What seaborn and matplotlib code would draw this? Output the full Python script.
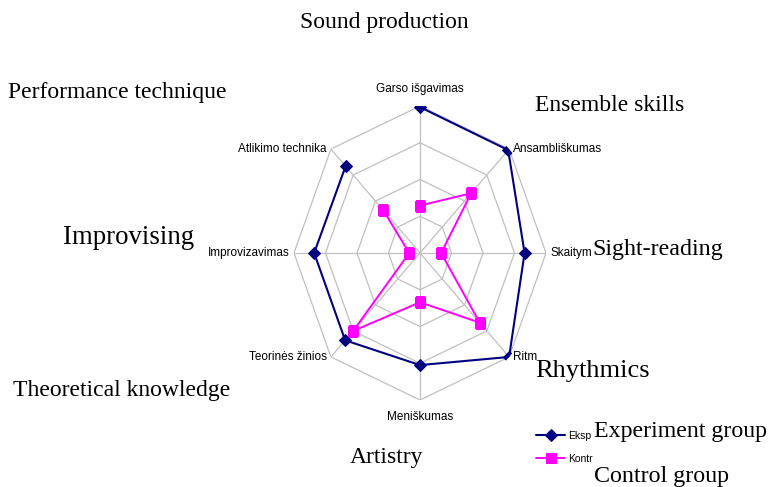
import numpy as np
import pandas as pd
import matplotlib
matplotlib.use("Agg")
import matplotlib.pyplot as plt
import seaborn as sns

# skill axes, clockwise from the top
skills_lt = ["Garso išgavimas", "Ansambliškumas", "Skaitym", "Ritm",
             "Meniškumas", "Teorinės žinios", "Improvizavimas", "Atlikimo technika"]
skills_en = ["Sound production", "Ensemble skills", "Sight-reading", "Rhythmics",
             "Artistry", "Theoretical knowledge", "Improvising", "Performance technique"]
experiment = [3.97, 3.96, 3.32, 4.00, 3.05, 3.36, 3.36, 3.34]
control = [1.29, 2.30, 0.67, 2.68, 1.34, 3.00, 0.34, 1.66]
groups_lt = ["Eksp", "Kontr"]
groups_en = ["Experiment group", "Control group"]
rings = [1, 2, 3, 4]

sns.set_style("white")
plt.rcParams["font.family"] = ["Liberation Sans", "DejaVu Sans"]
plt.rcParams["text.color"] = "black"

n = len(skills_lt)
theta = np.arange(n) * 2 * np.pi / n
theta_closed = np.append(theta, theta[0])

df = pd.DataFrame({
    "theta": np.concatenate([theta_closed, theta_closed]),
    "value": experiment + experiment[:1] + control + control[:1],
    "group": [groups_lt[0]] * (n + 1) + [groups_lt[1]] * (n + 1),
})

fig = plt.figure(figsize=(7.7, 4.87), dpi=100)
ax = fig.add_axes([294 / 770, 87 / 487, 252 / 770, 294 / 487], projection="polar")
ax.set_aspect("auto")
ax.set_theta_zero_location("N")
ax.set_theta_direction(-1)
ax.set_ylim(0, 4)
ax.grid(False)
ax.spines["polar"].set_visible(False)
ax.set_xticks([])
ax.set_yticks([])

# octagonal grid
for r in rings:
    ax.plot(theta_closed, [r] * (n + 1), color="#c0c0c0", lw=0.9, zorder=1)
for t in theta:
    ax.plot([t, t], [0, rings[-1]], color="#c0c0c0", lw=0.9, zorder=1)

sns.lineplot(data=df[df.group == groups_lt[0]], x="theta", y="value", sort=False,
             color="#000080", marker="D", markersize=6.5, markeredgecolor="#000080",
             lw=1.5, ax=ax, label=groups_lt[0], zorder=3)
sns.lineplot(data=df[df.group == groups_lt[1]], x="theta", y="value", sort=False,
             color="#ff00ff", marker="s", markersize=7.5, markeredgecolor="#ff00ff",
             lw=1.4, ax=ax, label=groups_lt[1], zorder=3)
ax.set_xlabel("")
ax.set_ylabel("")
handles, labels = ax.get_legend_handles_labels()
ax.get_legend().remove()

# Lithuanian axis labels
offsets = [(0, 8, "center", "bottom"), (3, 0, "left", "center"), (3, 0, "left", "center"),
           (3, 0, "left", "center"), (0, -8, "center", "top"), (-3, 0, "right", "center"),
           (-3, 0, "right", "center"), (-3, 0, "right", "center")]
for t, lab, (dx, dy, ha, va) in zip(theta, skills_lt, offsets):
    ax.annotate(lab, xy=(t, rings[-1]), xytext=(dx, dy), textcoords="offset points",
                ha=ha, va=va, fontsize=8.5)

fig.legend(handles, groups_lt, loc="upper left", bbox_to_anchor=(536 / 770, 1 - 431 / 487),
           frameon=False, fontsize=7.5, handlelength=2.8, handletextpad=0.3,
           labelspacing=1.2, borderpad=0, borderaxespad=0)

# English overlay labels (x left, baseline y, size)
serif = ["Liberation Serif", "DejaVu Serif"]
en_pos = [(300, 28, 17), (535, 111, 17), (592, 255, 17.3), (535, 377, 19),
          (350, 463, 17), (13, 396, 17), (63, 244, 19.3), (8, 98, 17),
          (594, 437, 17.2), (594, 482, 17.3)]
for lab, (x, y, fs) in zip(skills_en + groups_en, en_pos):
    fig.text(x / 770, 1 - y / 487, lab, ha="left", va="baseline", fontsize=fs,
             family=serif)

fig.savefig("out.png", dpi=100)
